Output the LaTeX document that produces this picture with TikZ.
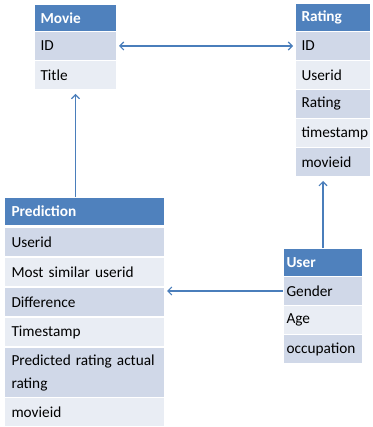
\documentclass[tikz,border=0pt]{standalone}
\usepackage{fontspec}
\setmainfont{Carlito}
\usetikzlibrary{arrows.meta}

\definecolor{hdrBlue}{HTML}{4F81BD}
\definecolor{rowDark}{HTML}{D0D8E8}
\definecolor{rowLight}{HTML}{E9EDF4}
\definecolor{lnBlue}{HTML}{4A7EBB}

\tikzstyle{hS}=[anchor=north west,fill=hdrBlue,draw=white,line width=1pt,minimum height=28pt,inner ysep=0pt,text=white,font=\fontsize{15.3}{23}\selectfont\bfseries,align=left]
\tikzstyle{rD}=[anchor=north west,fill=rowDark,draw=white,line width=1pt,minimum height=29pt,inner ysep=0pt,font=\fontsize{15.3}{23}\selectfont,align=left]
\tikzstyle{rL}=[anchor=north west,fill=rowLight,draw=white,line width=1pt,minimum height=29pt,inner ysep=0pt,font=\fontsize{15.3}{23}\selectfont,align=left]
\tikzstyle{wM}=[inner xsep=6pt,text width=70pt]
\tikzstyle{wR}=[inner xsep=6pt,text width=63pt]
\tikzstyle{wP}=[inner xsep=7pt,text width=146pt]
\tikzstyle{wU}=[inner xsep=3pt,text width=73pt]
\tikzstyle{aS}=[draw=lnBlue,line width=1.1pt,-{Straight Barb[length=4pt,width=8pt]}]

\begin{document}
\begin{tikzpicture}[x=1pt,y=-1pt]
    \useasboundingbox (0,0) rectangle (372,427);
    % Movie
    \draw (34,4) node[hS,wM] (mHead) {Movie};
    \draw (34,31) node[rD,wM] (mId) {ID};
    \draw (34,60) node[rL,wM] (mTitle) {Title};
    % Rating
    \draw (295,3) node[hS,wR] (rHead) {Rating};
    \draw (295,31) node[rD,wR] (rId) {ID};
    \draw (295,60) node[rL,wR] (rUser) {Userid};
    \draw (295,89) node[rD,wR] (rRating) {Rating};
    \draw (295,118) node[rL,wR] (rTime) {timestamp};
    \draw (295,147) node[rD,wR] (rMovie) {movieid};
    % Prediction
    \draw (4,197) node[hS,wP] (pHead) {Prediction};
    \draw (4,227) node[rD,wP] (pUser) {Userid};
    \draw (4,257) node[rL,wP] (pSimilar) {Most similar userid};
    \draw (4,287) node[rD,wP] (pDiff) {Difference};
    \draw (4,317) node[rL,wP] (pTime) {Timestamp};
    \draw (4,347) node[rD,wP,minimum height=50pt] (pPred) {Predicted rating actual rating};
    \draw (4,397) node[rL,wP] (pMovie) {movieid};
    % User
    \draw (283,248) node[hS,wU] (uHead) {User};
    \draw (283,276) node[rD,wU] (uGender) {Gender};
    \draw (283,305) node[rL,wU] (uAge) {Age};
    \draw (283,334) node[rD,wU] (uOcc) {occupation};

    \path
        (mId.east) edge[aS,{Straight Barb[length=4pt,width=8pt]}-{Straight Barb[length=4pt,width=8pt]},shorten <=2pt,shorten >=2pt] (rId.west)
        (mTitle.south |- pHead.north) edge[aS,shorten >=4pt] (mTitle.south)
        (uHead.north) edge[aS,shorten >=4pt] (uHead.north |- rMovie.south)
        (uGender.west) edge[aS,shorten >=2pt] (uGender.west -| pDiff.east)
    ;
\end{tikzpicture}
\end{document}
